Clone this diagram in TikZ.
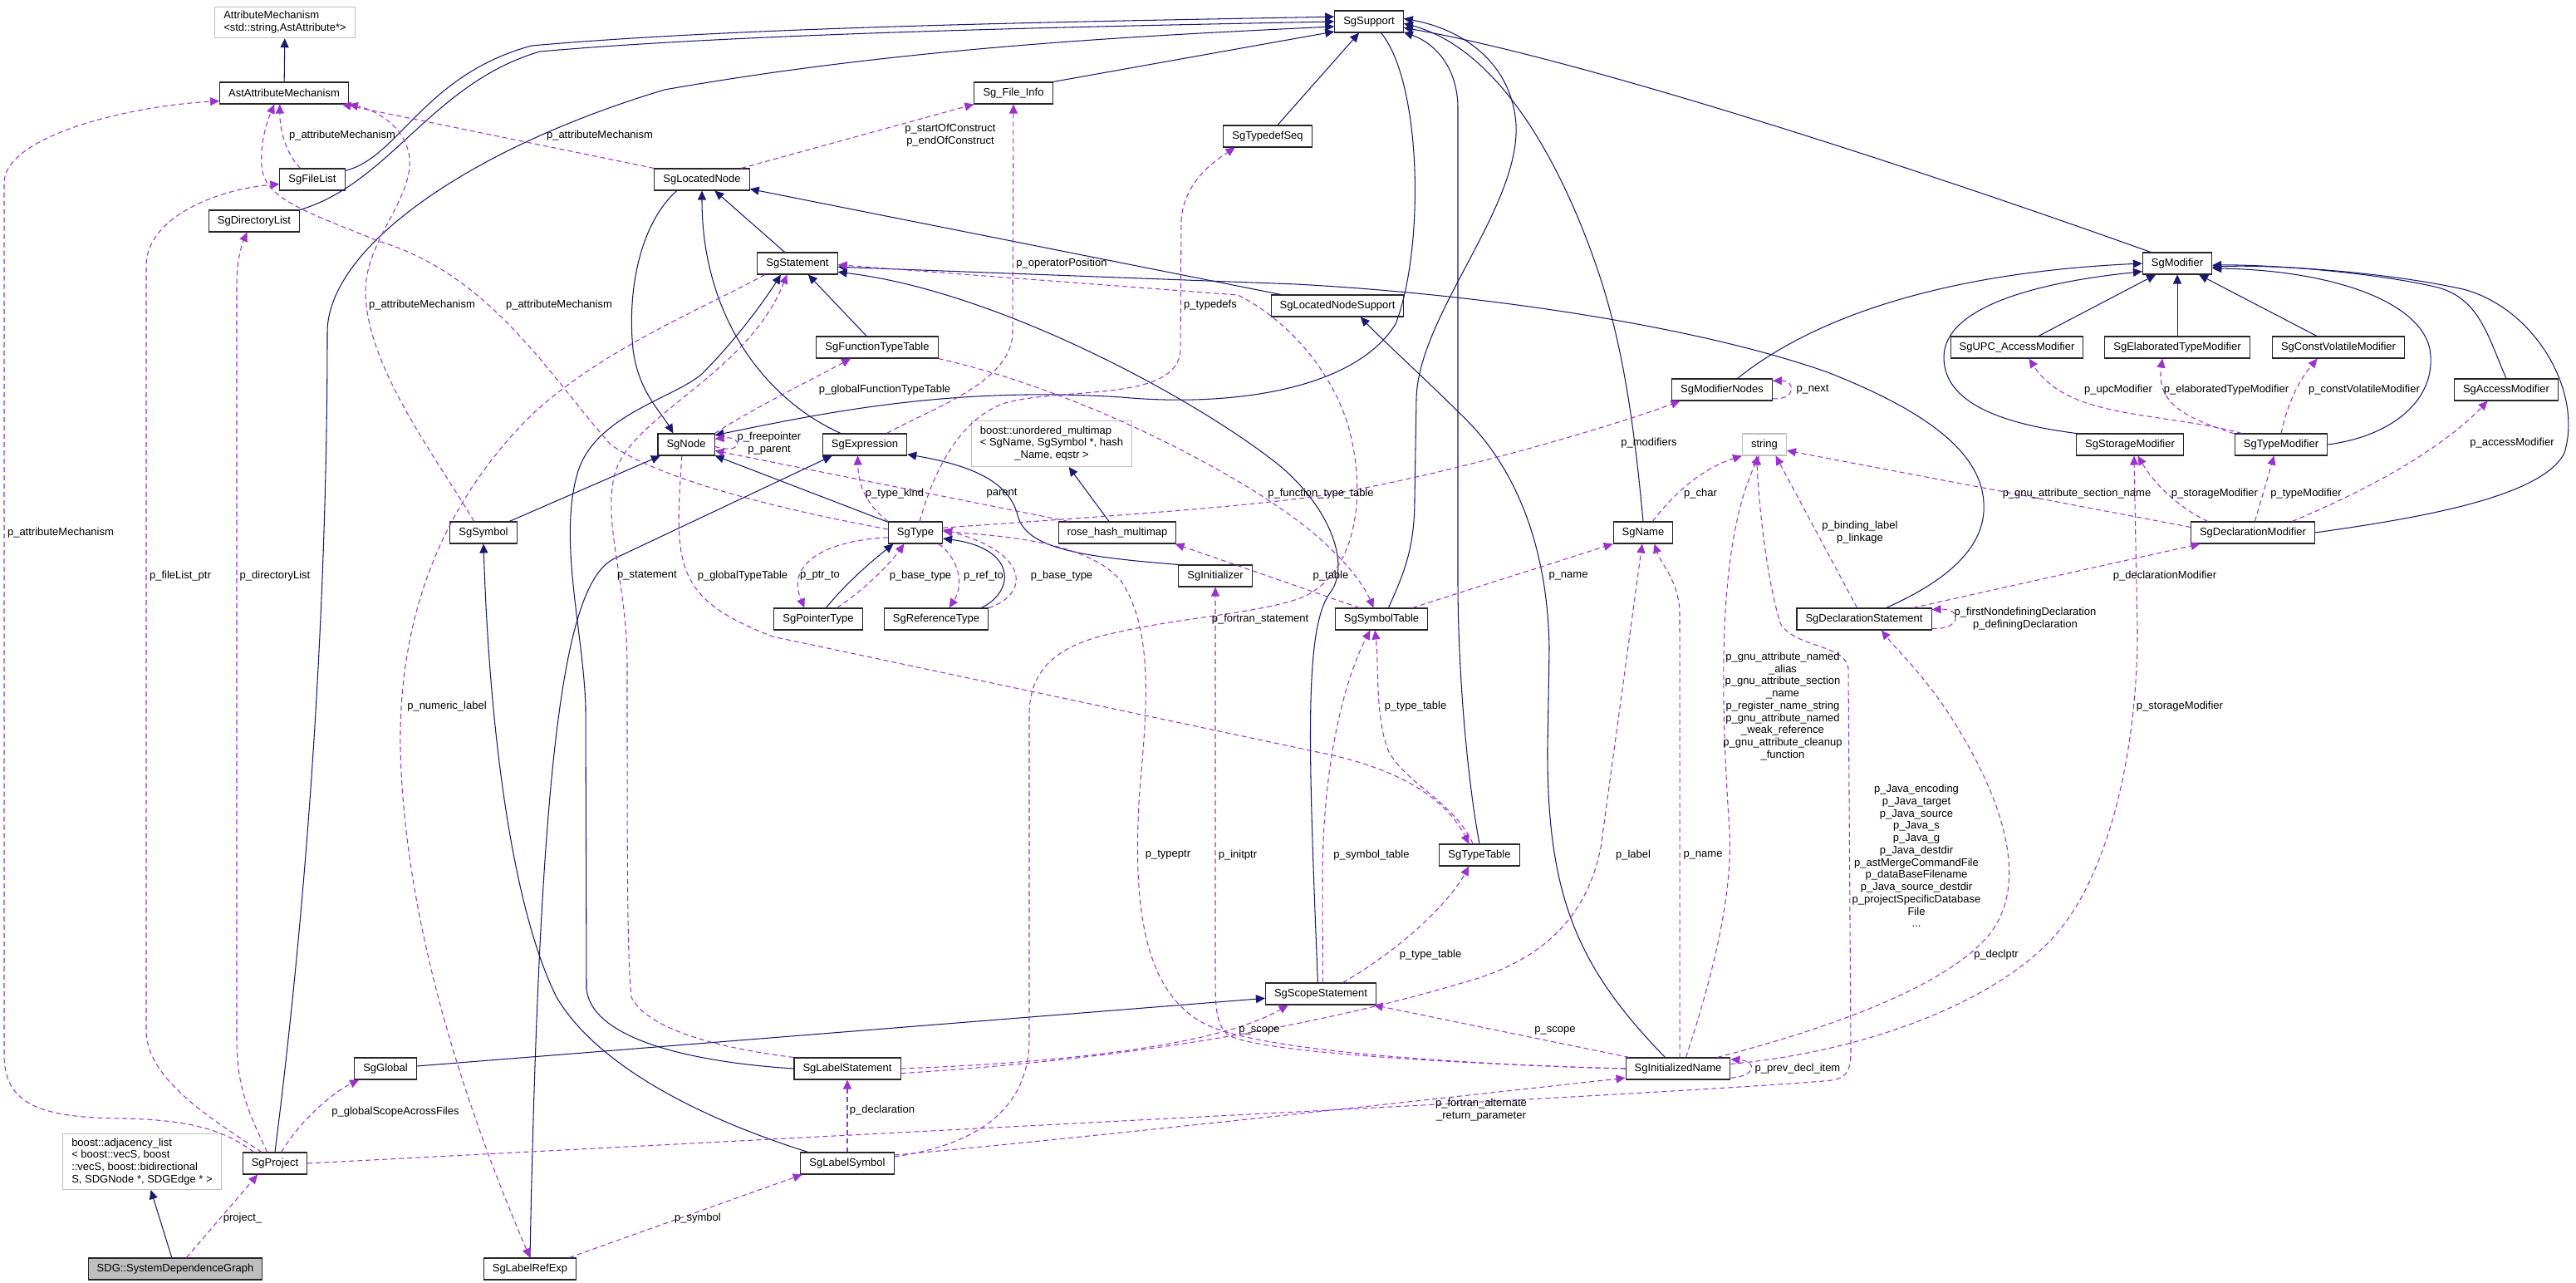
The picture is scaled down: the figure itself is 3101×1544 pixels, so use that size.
\documentclass[tikz,border=0pt]{standalone}
\usepackage{fontspec}
\setmainfont{Liberation Sans}
\usetikzlibrary{arrows.meta}

\definecolor{inhblue}{HTML}{191970}
\definecolor{usepurple}{HTML}{9A32CD}
\definecolor{extgrey}{HTML}{BFBFBF}

\tikzset{
  cls/.style={draw=black!85, line width=0.6pt, fill=white, minimum height=0.52cm,
    inner xsep=6pt, inner ysep=3pt, font=\fontsize{7.4}{8.4}\selectfont},
  extcls/.style={cls, draw=extgrey, align=left},
  curcls/.style={cls, fill=extgrey},
  inh/.style={draw=inhblue, line width=0.6pt, -{Triangle[length=2.2mm,width=2mm]}},
  memb/.style={draw=usepurple, line width=0.6pt, dash pattern=on 3.4pt off 2.3pt,
    -{Triangle[length=2.2mm,width=2mm]}},
  lbl/.style={font=\fontsize{7.4}{8.4}\selectfont, align=center, inner sep=0pt},
}

\begin{document}
\begin{tikzpicture}[x=0.02cm, y=-0.02cm]
  \useasboundingbox (0,0) rectangle (3101,1544);

  % Classes
  \node[extcls] (attrmech) at (343,27) {AttributeMechanism\\<std::string,AstAttribute*>};
  \node[cls] (astattr) at (342,112) {AstAttributeMechanism};
  \node[cls] (filelist) at (376,216) {SgFileList};
  \node[cls] (dirlist) at (306,266) {SgDirectoryList};
  \node[cls] (fileinfo) at (1220,112) {Sg\_File\_Info};
  \node[cls] (typedefseq) at (1526,164) {SgTypedefSeq};
  \node[cls] (locnode) at (845,216) {SgLocatedNode};
  \node[cls] (stmt) at (960,317) {SgStatement};
  \node[cls] (functt) at (1056,418) {SgFunctionTypeTable};
  \node[cls] (locsupp) at (1610,368) {SgLocatedNodeSupport};
  \node[cls] (support) at (1648,26) {SgSupport};
  \node[cls] (modnodes) at (2073,469) {SgModifierNodes};
  \node[cls] (modifier) at (2621,317) {SgModifier};
  \node[cls] (upcmod) at (2428,418) {SgUPC\_AccessModifier};
  \node[cls] (elabmod) at (2621,418) {SgElaboratedTypeModifier};
  \node[cls] (cvmod) at (2815,418) {SgConstVolatileModifier};
  \node[cls] (accmod) at (3017,469) {SgAccessModifier};
  \node[cls] (symbol) at (582,641) {SgSymbol};
  \node[cls] (sgnode) at (826,535) {SgNode};
  \node[cls] (expr) at (1041,535) {SgExpression};
  \node[extcls] (umultimap) at (1266,534) {\begin{tabular}{@{}l@{}}boost::unordered\_multimap\\< SgName, SgSymbol *, hash\\\multicolumn{1}{@{}c@{}}{\_Name, eqstr >}\end{tabular}};
  \node[cls] (sgtype) at (1102,641) {SgType};
  \node[cls] (rosehash) at (1345,641) {rose\_hash\_multimap};
  \node[cls] (initializer) at (1463,693) {SgInitializer};
  \node[cls] (ptrtype) at (985,745) {SgPointerType};
  \node[cls] (reftype) at (1127,745) {SgReferenceType};
  \node[extcls] (strng) at (2124,535) {string};
  \node[cls] (sgname) at (1978,641) {SgName};
  \node[cls] (symtab) at (1663,745) {SgSymbolTable};
  \node[cls] (declstmt) at (2244,745) {SgDeclarationStatement};
  \node[cls] (storemod) at (2564,535) {SgStorageModifier};
  \node[cls] (typemod) at (2746,535) {SgTypeModifier};
  \node[cls] (declmod) at (2712,641) {SgDeclarationModifier};
  \node[extcls] (adjlist) at (171,1398) {boost::adjacency\_list\\< boost::vecS, boost\\::vecS, boost::bidirectional\\S, SDGNode *, SDGEdge * >};
  \node[cls] (project) at (331,1400) {SgProject};
  \node[curcls] (sdg) at (211,1527) {SDG::SystemDependenceGraph};
  \node[cls] (global) at (464,1286) {SgGlobal};
  \node[cls] (labelrefexp) at (638,1527) {SgLabelRefExp};
  \node[cls] (labelstmt) at (1020,1286) {SgLabelStatement};
  \node[cls] (labelsym) at (1020,1400) {SgLabelSymbol};
  \node[cls] (scopestmt) at (1590,1196) {SgScopeStatement};
  \node[cls] (typetable) at (1781,1029) {SgTypeTable};
  \node[cls] (initname) at (2020,1286) {SgInitializedName};

  % Inheritance
  \draw[inh] (astattr) -- (attrmech);
  \draw[inh] (filelist.15) .. controls (480,190) and (510,90) .. (640,55) .. controls (900,32) and (1300,26) .. (support.172);
  \draw[inh] (dirlist.north east) .. controls (470,220) and (520,100) .. (650,62) .. controls (900,40) and (1300,32) .. (support.180);
  \draw[inh] (project.north) .. controls (380,1000) and (394,650) .. (394,400) .. controls (394,300) and (560,180) .. (800,108) .. controls (1100,55) and (1400,42) .. (support.188);
  \draw[inh] (fileinfo.north east) -- (support.196);
  \draw[inh] (typedefseq) -- (support);
  \draw[inh] (locnode.204) .. controls (770,270) and (755,350) .. (762,420) .. controls (768,470) and (795,495) .. (sgnode.139);
  \draw[inh] (support.-43) .. controls (1712,100) and (1715,300) .. (1680,390) .. controls (1630,470) and (1480,490) .. (1350,478) .. controls (1150,465) and (1000,495) .. (sgnode.18);
  \draw[inh] (symbol) -- (sgnode);
  \draw[inh] (sgtype) -- (sgnode);
  \draw[inh] (stmt) -- (locnode);
  \draw[inh] (expr.155) .. controls (920,480) and (845,380) .. (locnode.south);
  \draw[inh] (locsupp) -- (locnode);
  \draw[inh] (functt) -- (stmt);
  \draw[inh] (labelstmt.west) .. controls (830,1278) and (712,1250) .. (706,1190) -- (705,850) .. controls (702,760) and (672,650) .. (695,570) .. controls (715,500) and (810,480) .. (845,450) .. controls (880,415) and (915,370) .. (stmt.214);
  \draw[inh] (scopestmt.105) .. controls (1575,900) and (1570,760) .. (1600,715) .. controls (1628,680) and (1600,610) .. (1540,560) .. controls (1440,480) and (1200,350) .. (stmt.-12);
  \draw[inh] (declstmt.27) .. controls (2330,705) and (2392,665) .. (2388,605) .. controls (2385,545) and (2320,495) .. (2200,448) .. controls (2050,395) and (1800,355) .. (1560,342) -- (stmt.-5);
  \draw[inh] (labelrefexp.north) .. controls (650,900) and (680,700) .. (740,672) -- (expr.199);
  \draw[inh] (initializer.north west) .. controls (1300,670) and (1235,660) .. (1225,620) .. controls (1215,580) and (1170,560) .. (expr.-13);
  \draw[inh] (labelsym.164) .. controls (850,1348) and (720,1285) .. (670,1200) .. controls (620,1100) and (590,900) .. (symbol.south);
  \draw[inh] (global) -- (scopestmt);
  \draw[inh] (ptrtype.55) .. controls (1020,700) and (1050,675) .. (sgtype.207);
  \draw[inh] (reftype.14) .. controls (1222,712) and (1225,660) .. (sgtype.-12);
  \draw[inh] (rosehash) -- (umultimap);
  \draw[inh] (symtab.58) .. controls (1690,690) and (1703,660) .. (1703,600) -- (1705,480) .. controls (1707,380) and (1830,250) .. (1825,150) .. controls (1820,75) and (1760,35) .. (support.5);
  \draw[inh] (typetable.north) .. controls (1765,930) and (1755,800) .. (1755,700) -- (1755,130) .. controls (1755,90) and (1735,55) .. (support.-17);
  \draw[inh] (sgname.north) .. controls (1968,520) and (1955,420) .. (1925,330) .. controls (1885,210) and (1810,60) .. (support.-3);
  \draw[inh] (initname.139) .. controls (1900,1165) and (1862,1080) .. (1863,900) -- (1865,780) .. controls (1863,650) and (1820,560) .. (1765,505) .. controls (1720,460) and (1665,410) .. (locsupp.-26);
  \draw[inh] (modifier.157) .. controls (2300,200) and (1900,70) .. (support.-10);
  \draw[inh] (modnodes.36) .. controls (2160,400) and (2300,330) .. (modifier.west);
  \draw[inh] (upcmod) -- (modifier);
  \draw[inh] (elabmod) -- (modifier);
  \draw[inh] (cvmod) -- (modifier);
  \draw[inh] (storemod.north west) .. controls (2410,510) and (2340,485) .. (2340,430) .. controls (2340,370) and (2450,340) .. (modifier.193);
  \draw[inh] (typemod.east) .. controls (2880,525) and (2935,480) .. (2925,420) .. controls (2912,360) and (2800,325) .. (modifier.-8);
  \draw[inh] (accmod.north) .. controls (2995,405) and (2985,360) .. (2935,346) .. controls (2850,326) and (2720,318) .. (modifier.-3);
  \draw[inh] (declmod.east) .. controls (2900,625) and (3060,600) .. (3087,545) .. controls (3110,470) and (3050,370) .. (2965,348) .. controls (2860,325) and (2720,318) .. (modifier.-6);
  \draw[inh] (sdg) -- (adjlist);

  % Members
  \draw[memb] (filelist.137) .. controls (345,185) and (337,160) .. (astattr.249);
  \draw[memb] (locnode.north west) -- (astattr.-11);
  \draw[memb] (symbol.130) .. controls (525,550) and (440,440) .. (440,350) .. controls (440,290) and (497,240) .. (493,190) .. controls (488,150) and (450,132) .. (astattr.south east);
  \draw[memb] (sgtype.173) .. controls (950,615) and (800,580) .. (735,535) .. controls (660,450) and (590,330) .. (455,290) .. controls (370,255) and (318,240) .. (315,200) .. controls (313,170) and (322,145) .. (astattr.229);
  \draw[memb] (project.152) .. controls (270,1360) and (230,1348) .. (150,1346) .. controls (60,1345) and (5,1335) .. (5,1270) -- (5,220) .. controls (5,165) and (150,128) .. (astattr.187);
  \draw[memb] (project.140) .. controls (260,1350) and (176,1300) .. (176,1240) -- (176,320) .. controls (176,262) and (260,228) .. (filelist.188);
  \draw[memb] (project.125) .. controls (300,1340) and (285,1310) .. (285,1250) -- (285,340) .. controls (285,312) and (292,292) .. (dirlist.238);
  \draw[memb] (locnode.16) -- (fileinfo.south west);
  \draw[memb] (expr.27) .. controls (1120,492) and (1219,460) .. (1219,400) -- (fileinfo.south);
  \draw[memb] (sgtype.69) .. controls (1120,580) and (1150,505) .. (1210,485) .. controls (1280,465) and (1420,485) .. (1421,420) -- (1422,265) .. controls (1425,220) and (1460,195) .. (typedefseq.199);
  \draw[memb] (stmt.199) .. controls (850,370) and (700,430) .. (620,520) .. controls (520,630) and (480,760) .. (482,900) .. controls (485,1050) and (525,1250) .. (labelrefexp.north);
  \draw[memb] (labelstmt.north west) .. controls (870,1262) and (780,1240) .. (760,1200) .. controls (755,1150) and (755,1050) .. (755,800) .. controls (755,700) and (725,630) .. (740,570) .. controls (760,500) and (900,450) .. (stmt.227);
  \draw[memb] (sgnode.-4) .. controls (895,548) and (895,524) .. (sgnode.11);
  \draw[memb] (functt.south east) .. controls (1300,470) and (1480,565) .. (1560,625) .. controls (1610,662) and (1640,700) .. (symtab.125);
  \draw[memb] (labelsym) -- (labelstmt);
  \draw[memb] (labelrefexp.16) -- (labelsym.194);
  \draw[memb] (labelsym.10) .. controls (1300,1370) and (1750,1320) .. (initname.190);
  \draw[memb] (project.60) .. controls (360,1350) and (400,1315) .. (global.203);
  \draw[memb] (sdg.45) -- (project.213);
  \draw[memb] (project.east) -- (1600,1336) .. controls (1900,1320) and (2160,1305) .. (2205,1300) .. controls (2226,1297) and (2228,1285) .. (2228,1260) -- (2225,805) .. controls (2223,775) and (2160,780) .. (2143,750) .. controls (2128,700) and (2118,620) .. (strng.235);
  \draw[memb] (initname.55) .. controls (2060,1180) and (2086,1080) .. (2082,1000) .. controls (2072,850) and (2065,660) .. (strng.245);
  \draw[memb] (symtab.20) -- (sgname.south west);
  \draw[memb] (sgname.50) .. controls (2010,600) and (2045,565) .. (strng.south west);
  \draw[memb] (declstmt.122) -- (strng.-45);
  \draw[memb] (declmod.175) -- (strng.-15);
  \draw[memb] (declstmt.-8) .. controls (2362,758) and (2362,732) .. (declstmt.8);
  \draw[memb] (declstmt.13) -- (declmod.192);
  \draw[memb] (declmod.166) .. controls (2625,612) and (2595,585) .. (storemod.-55);
  \draw[memb] (declmod.80) -- (typemod.238);
  \draw[memb] (declmod.16) .. controls (2850,590) and (2940,540) .. (accmod.211);
  \draw[memb] (typemod.164) .. controls (2600,495) and (2490,505) .. (upcmod.-43);
  \draw[memb] (typemod.167) .. controls (2640,505) and (2595,490) .. (elabmod.217);
  \draw[memb] (typemod.north) .. controls (2755,480) and (2770,455) .. (cvmod.208);
  \draw[memb] (initname.5) .. controls (2250,1265) and (2400,1205) .. (2470,1130) .. controls (2540,1055) and (2573,900) .. (2573,760) -- (storemod.-70);
  \draw[memb] (initname.16) .. controls (2200,1238) and (2335,1190) .. (2390,1130) .. controls (2440,1075) and (2420,985) .. (2365,890) .. controls (2325,820) and (2290,790) .. (declstmt.-33);
  \draw[memb] (initname.-10) .. controls (2115,1295) and (2115,1277) .. (initname.10);
  \draw[memb] (initname.167) -- (scopestmt.-12);
  \draw[memb] (labelstmt.east) .. controls (1250,1280) and (1460,1262) .. (scopestmt.199);
  \draw[memb] (labelstmt.-5) .. controls (1400,1272) and (1620,1225) .. (1770,1180) .. controls (1880,1148) and (1915,1080) .. (1927,1020) -- (sgname.-95);
  \draw[memb] (initname.81) -- (2022,740) .. controls (2022,700) and (2000,680) .. (sgname.-45);
  \draw[memb] (initname.west) .. controls (1800,1282) and (1520,1268) .. (1450,1232) .. controls (1380,1195) and (1362,1100) .. (1372,950) .. controls (1380,860) and (1390,760) .. (1350,700) .. controls (1310,650) and (1200,645) .. (sgtype.3);
  \draw[memb] (initname.west) .. controls (1800,1282) and (1510,1268) .. (1478,1245) .. controls (1463,1232) and (1463,1210) .. (1463,1170) -- (initializer.south);
  \draw[memb] (modnodes.-10) .. controls (2162,482) and (2162,458) .. (modnodes.10);
  \draw[memb] (sgtype.10) .. controls (1350,620) and (1500,610) .. (1600,595) .. controls (1750,570) and (1950,510) .. (modnodes.195);
  \draw[memb] (sgtype.north west) .. controls (1040,605) and (1033,580) .. (expr.238);
  \draw[memb] (sgnode.north east) .. controls (900,495) and (990,450) .. (functt.203);
  \draw[memb] (sgnode.249) .. controls (812,680) and (810,720) .. (930,766) -- (1600,908) .. controls (1700,930) and (1745,970) .. (typetable.133);
  \draw[memb] (ptrtype.31) .. controls (1040,710) and (1070,680) .. (sgtype.225);
  \draw[memb] (sgtype.190) .. controls (1000,650) and (945,675) .. (ptrtype.141);
  \draw[memb] (sgtype.-26) .. controls (1150,668) and (1163,700) .. (reftype.41);
  \draw[memb] (reftype.north east) .. controls (1240,715) and (1240,665) .. (sgtype.6);
  \draw[memb] (rosehash.167) -- (sgnode.-12);
  \draw[memb] (symtab.153) -- (rosehash.-11);
  \draw[memb] (scopestmt.80) -- (1592,1060) .. controls (1592,900) and (1625,805) .. (symtab.225);
  \draw[memb] (scopestmt.27) .. controls (1690,1140) and (1745,1085) .. (typetable.227);
  \draw[memb] (typetable.120) .. controls (1750,965) and (1695,945) .. (1672,905) .. controls (1655,865) and (1660,800) .. (symtab.240);
  \draw[memb] (labelsym.8) .. controls (1160,1380) and (1239,1345) .. (1239,1250) -- (1239,860) .. controls (1239,800) and (1280,775) .. (1340,762) .. controls (1420,743) and (1520,738) .. (1570,718) .. controls (1632,688) and (1645,600) .. (1625,520) .. controls (1610,460) and (1560,390) .. (1490,355) -- (stmt.-2);

  % Member labels
  \node[lbl] (lb1) at (412,163) {p\_attributeMechanism};
  \node[lbl] (lb2) at (722,163) {p\_attributeMechanism};
  \node[lbl] (lb3) at (508,367) {p\_attributeMechanism};
  \node[lbl] (lb4) at (673,367) {p\_attributeMechanism};
  \node[lbl] (lb5) at (73,641) {p\_attributeMechanism};
  \node[lbl] (lb6) at (217,693) {p\_fileList\_ptr};
  \node[lbl] (lb7) at (331,693) {p\_directoryList};
  \node[lbl] (lb8) at (1144,163) {p\_startOfConstruct\\p\_endOfConstruct};
  \node[lbl] (lb9) at (1278,317) {p\_operatorPosition};
  \node[lbl] (lb10) at (1457,367) {p\_typedefs};
  \node[lbl] (lb11) at (1065,469) {p\_globalFunctionTypeTable};
  \node[lbl] (lb12) at (2182,469) {p\_next};
  \node[lbl] (lb13) at (2550,469) {p\_upcModifier};
  \node[lbl] (lb14) at (2680,469) {p\_elaboratedTypeModifier};
  \node[lbl] (lb15) at (2846,469) {p\_constVolatileModifier};
  \node[lbl] (lb16) at (538,850) {p\_numeric\_label};
  \node[lbl] (lb17) at (779,693) {p\_statement};
  \node[lbl] (lb18) at (926,534) {p\_freepointer\\p\_parent};
  \node[lbl] (lb19) at (1077,594) {p\_type\_kind};
  \node[lbl] (lb20) at (1206,594) {parent};
  \node[lbl] (lb21) at (1590,594) {p\_function\_type\_table};
  \node[lbl] (lb22) at (894,693) {p\_globalTypeTable};
  \node[lbl] (lb23) at (987,693) {p\_ptr\_to};
  \node[lbl] (lb24) at (1108,693) {p\_base\_type};
  \node[lbl] (lb25) at (1184,693) {p\_ref\_to};
  \node[lbl] (lb26) at (1278,693) {p\_base\_type};
  \node[lbl] (lb27) at (1517,745) {p\_fortran\_statement};
  \node[lbl] (lb28) at (1985,533) {p\_modifiers};
  \node[lbl] (lb29) at (2047,594) {p\_char};
  \node[lbl] (lb30) at (2239,641) {p\_binding\_label\\p\_linkage};
  \node[lbl] (lb31) at (1602,693) {p\_table};
  \node[lbl] (lb32) at (1888,693) {p\_name};
  \node[lbl] (lb33) at (1704,850) {p\_type\_table};
  \node[lbl] (lb34) at (2146,850) {p\_gnu\_attribute\_named\\\_alias\\p\_gnu\_attribute\_section\\\_name\\p\_register\_name\_string\\p\_gnu\_attribute\_named\\\_weak\_reference\\p\_gnu\_attribute\_cleanup\\\_function};
  \node[lbl] (lb35) at (2307,1030) {p\_Java\_encoding\\p\_Java\_target\\p\_Java\_source\\p\_Java\_s\\p\_Java\_g\\p\_Java\_destdir\\p\_astMergeCommandFile\\p\_dataBaseFilename\\p\_Java\_source\_destdir\\p\_projectSpecificDatabase\\File\\...};
  \node[lbl] (lb36) at (2438,745) {p\_firstNondefiningDeclaration\\p\_definingDeclaration};
  \node[lbl] (lb37) at (3024,533) {p\_accessModifier};
  \node[lbl] (lb38) at (2500,594) {p\_gnu\_attribute\_section\_name};
  \node[lbl] (lb39) at (2666,594) {p\_storageModifier};
  \node[lbl] (lb40) at (2776,594) {p\_typeModifier};
  \node[lbl] (lb41) at (2606,693) {p\_declarationModifier};
  \node[lbl] (lb42) at (2624,850) {p\_storageModifier};
  \node[lbl] (lb43) at (476,1338) {p\_globalScopeAcrossFiles};
  \node[lbl] (lb44) at (292,1466) {project\_};
  \node[lbl] (lb45) at (1406,1029) {p\_typeptr};
  \node[lbl] (lb46) at (1490,1029) {p\_initptr};
  \node[lbl] (lb47) at (1516,1240) {p\_scope};
  \node[lbl] (lb48) at (1062,1336) {p\_declaration};
  \node[lbl] (lb49) at (840,1466) {p\_symbol};
  \node[lbl] (lb50) at (1651,1029) {p\_symbol\_table};
  \node[lbl] (lb51) at (1966,1029) {p\_label};
  \node[lbl] (lb52) at (2050,1029) {p\_name};
  \node[lbl] (lb53) at (1722,1149) {p\_type\_table};
  \node[lbl] (lb54) at (1872,1240) {p\_scope};
  \node[lbl] (lb55) at (2164,1286) {p\_prev\_decl\_item};
  \node[lbl] (lb56) at (1783,1336) {p\_fortran\_alternate\\\_return\_parameter};
  \node[lbl] (lb57) at (2403,1149) {p\_declptr};
\end{tikzpicture}
\end{document}
